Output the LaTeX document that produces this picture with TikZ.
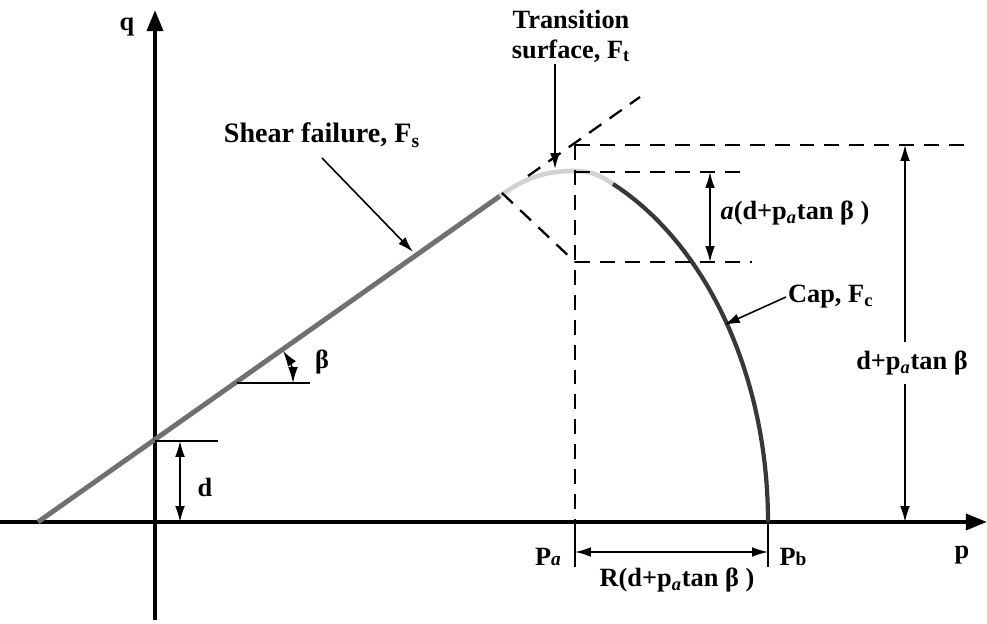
\documentclass[tikz,border=0pt]{standalone}
\usepackage{fontspec}
\setmainfont{Liberation Serif}
\usepackage{xcolor}
\usetikzlibrary{arrows.meta, positioning, calc}
\definecolor{sheargray}{HTML}{707070}
\definecolor{capgray}{HTML}{383838}
\definecolor{transgray}{HTML}{D2D2D2}
\tikzstyle{axis}    = [line width=2.3pt, -{Triangle[length=12pt,width=9pt]}]
\tikzstyle{dim}     = [line width=0.9pt, {Latex[length=9pt,width=5.5pt]}-{Latex[length=9pt,width=5.5pt]}]
\tikzstyle{pointer} = [line width=0.9pt, -{Latex[length=9pt,width=5.5pt]}]
\tikzstyle{guide}   = [line width=1.3pt, dash pattern=on 8.5pt off 5.7pt]
\tikzstyle{tick}    = [line width=0.9pt]
\tikzstyle{lbl}     = [font=\fontsize{15}{17}\selectfont\bfseries, inner sep=1pt]
\newcommand{\sub}[1]{\textsubscript{#1}}
\newcommand{\smallbase}[1]{{\fontsize{11}{12}\selectfont #1}}

\begin{document}
\begin{tikzpicture}[x=0.02cm, y=0.02cm]
  \useasboundingbox (0,0) rectangle (987,624);

  % Key points
  \coordinate (qbot) at (155,4);
  \coordinate (qtop) at (155,614);
  \coordinate (pleft) at (0,102);
  \coordinate (pright) at (987,102);
  \coordinate (s0) at (38,102);
  \coordinate (s1) at (500,428);
  \coordinate (peak) at (575,453);
  \coordinate (c0) at (613,440);
  \coordinate (pb) at (768,102);

  % Axes
  \draw[axis] (qbot) -- (qtop);
  \draw[axis] (pleft) -- (pright);
  \node[lbl] (qlab) at (127,597) {q};
  \node[lbl] (plab) at (962,69) {p};

  % Shear failure line, transition and cap
  \draw[sheargray, line width=2.8pt] (s0) -- (s1);
  \draw[transgray, line width=2.6pt] (s1) .. controls (530,450) and (552,453) .. (peak)
        .. controls (592,453) and (603,447) .. (c0);
  \draw[capgray, line width=2.4pt] (c0) arc[start angle=65.06, end angle=0, x radius=268, y radius=373];

  % Dashed guides
  \coordinate (ext0) at (528,448);
  \coordinate (ext1) at (640,527);
  \coordinate (n0) at (502,431);
  \coordinate (n1) at (575,362);
  \coordinate (vtop) at (575,479);
  \coordinate (pa) at (575,102);
  \draw[guide] (ext0) -- (ext1);
  \draw[guide] (n0) -- (n1);
  \draw[guide] (vtop) -- (pa);
  \coordinate (h1r) at (965,479);
  \coordinate (h2l) at (575,452);
  \coordinate (h2r) at (745,452);
  \coordinate (h3r) at (752,362);
  \draw[guide] (vtop) -- (h1r);
  \draw[guide] (h2l) -- (h2r);
  \draw[guide] (n1) -- (h3r);

  % d
  \coordinate (dl) at (155,183);
  \coordinate (dr) at (218,183);
  \coordinate (da) at (180,183);
  \coordinate (db) at (180,102);
  \draw[tick] (dl) -- (dr);
  \draw[dim] (da) -- (db);
  \node[lbl] (dlab) at (205,137) {d};

  % beta
  \coordinate (bl) at (237,241);
  \coordinate (br) at (310,241);
  \coordinate (b0) at (293,241);
  \draw[tick] (bl) -- (br);
  \draw[dim] (b0) arc[start angle=0, end angle=35, radius=56];
  \node[lbl] (blab) at (322,262) {β};

  % Labels with pointers
  \node[lbl, font=\fontsize{16}{18}\selectfont\bfseries] (shear) at (322,489) {Shear failure, F\sub{s}};
  \coordinate (shtip) at (413,372);
  \draw[pointer] (322,466) -- (shtip);

  \node[lbl, align=center] (trans) at (571,588) {Transition\\surface, F\sub{t}};
  \coordinate (trtip) at (555,455);
  \draw[pointer] (trans.south -| trtip) -- (trtip);

  \node[lbl, anchor=west] (cap) at (786,327) {Cap, F\sub{c}};
  \coordinate (captip) at (724,299);
  \draw[pointer] (cap.west) -- (captip);

  % a(d + pa tan beta)
  \coordinate (at) at (710,452);
  \coordinate (ab) at (710,362);
  \draw[dim] (at) -- (ab);
  \node[lbl] (alab) at (795,411) {\textit{a}(d+p\sub{\textit{a}}tan β )};

  % d + pa tan beta
  \coordinate (ht) at (905,479);
  \coordinate (hb) at (905,102);
  \node[lbl, fill=white, inner sep=5pt] (hlab) at (912,261) {d+p\sub{\textit{a}}tan β};
  \draw[pointer] (hlab.north -| ht) -- (ht);
  \draw[pointer] (hlab.south -| hb) -- (hb);

  % R(d + pa tan beta)
  \coordinate (pat) at (575,57);
  \coordinate (pbt) at (768,57);
  \coordinate (ra) at (575,72);
  \coordinate (rb) at (768,72);
  \draw[tick] (pa) -- (pat);
  \draw[tick] (pb) -- (pbt);
  \draw[dim] (ra) -- (rb);
  \node[lbl] (palab) at (548,67) {P\smallbase{\textit{a}}};
  \node[lbl] (pblab) at (793,67) {P\smallbase{b}};
  \node[lbl] (rlab) at (677,44) {R(d+p\sub{\textit{a}}tan β )};
\end{tikzpicture}
\end{document}
